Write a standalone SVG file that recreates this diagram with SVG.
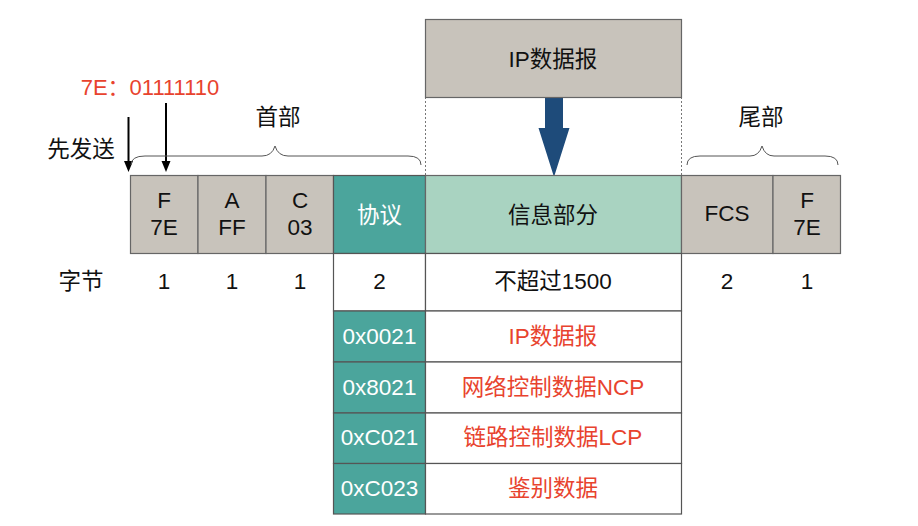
<svg xmlns="http://www.w3.org/2000/svg" width="918" height="526" viewBox="0 0 918 526">
<style>
text{font-family:"Liberation Sans","Noto Sans CJK SC",sans-serif;font-size:22.5px;text-anchor:middle;fill:#111}
.w{fill:#fff}
.r{fill:#e8432e}
.g{fill:#c8c3bb;stroke:#666;stroke-width:1.2}
.t{fill:#4ba59c;stroke:#555;stroke-width:1.2}
.lg{fill:#a9d3c1;stroke:#666;stroke-width:1.2}
.c{fill:#fff;stroke:#555;stroke-width:1.2}
.br{fill:none;stroke:#555;stroke-width:1}
.dot{stroke:#777;stroke-width:1;stroke-dasharray:2 2}
</style>
<rect width="918" height="526" fill="#fff"/>

<g id="connectors">
<line class="dot" x1="425.5" y1="97" x2="425.5" y2="175"/>
<line class="dot" x1="681.5" y1="97" x2="681.5" y2="175"/>
<line x1="128.5" y1="117" x2="128.5" y2="162" stroke="#000" stroke-width="2"/>
<path d="M124,161 L133,161 L128.5,172 Z" fill="#000"/>
<line x1="166" y1="103" x2="166" y2="162" stroke="#000" stroke-width="2"/>
<path d="M161.5,161 L170.5,161 L166,172 Z" fill="#000"/>
<path d="M545,96 L563,96 L563,128 L569.5,128 L554,177 L538.5,128 L545,128 Z" fill="#1e4b7a"/>
<path class="br" d="M131,165 Q131,156 145,156 L262,156 Q272,156 275,146 Q278,156 288,156 L408,156 Q421,156 421,165"/>
<path class="br" d="M687,165 Q687,156 700,156 L750,156 Q759,156 762,146 Q765,156 774,156 L825,156 Q838,156 838,165"/>
</g>

<g id="label-7e"><text class="r" x="150" y="95" style="font-size:22px">7E：01111110</text></g>
<g id="label-first"><text x="81" y="157">先发送</text></g>
<g id="label-head"><text x="278" y="125">首部</text></g>
<g id="label-tail"><text x="761" y="125">尾部</text></g>

<g id="ip-datagram">
<rect class="g" x="425.5" y="19.5" width="256" height="78"/>
<text x="553" y="67">IP数据报</text>
</g>

<g id="field-f">
<rect class="g" x="130.5" y="175.5" width="67.5" height="78"/>
<text x="164" y="208">F</text><text x="164" y="235">7E</text>
</g>
<g id="field-a">
<rect class="g" x="198" y="175.5" width="68" height="78"/>
<text x="232" y="208">A</text><text x="232" y="235">FF</text>
</g>
<g id="field-c">
<rect class="g" x="266" y="175.5" width="67.5" height="78"/>
<text x="300" y="208">C</text><text x="300" y="235">03</text>
</g>
<g id="field-protocol">
<rect class="t" x="333.5" y="175.5" width="92" height="78"/>
<text class="w" x="379.5" y="223">协议</text>
</g>
<g id="field-info">
<rect class="lg" x="425.5" y="175.5" width="256" height="78"/>
<text x="553" y="223">信息部分</text>
</g>
<g id="field-fcs">
<rect class="g" x="681.5" y="175.5" width="91.5" height="78"/>
<text x="727" y="221">FCS</text>
</g>
<g id="field-f2">
<rect class="g" x="773" y="175.5" width="67.5" height="78"/>
<text x="807" y="208">F</text><text x="807" y="235">7E</text>
</g>

<g id="bytes-row">
<text x="81" y="289">字节</text>
<text x="164" y="289">1</text>
<text x="232" y="289">1</text>
<text x="300" y="289">1</text>
<text x="727" y="289">2</text>
<text x="807" y="289">1</text>
</g>

<g id="table">
<rect class="c" x="333.5" y="253.5" width="92" height="57.5"/>
<text x="379.5" y="289">2</text>
<rect class="c" x="425.5" y="253.5" width="256" height="57.5"/>
<text x="553" y="289">不超过1500</text>

<rect class="t" x="333.5" y="311" width="92" height="51"/>
<text class="w" x="379.5" y="344">0x0021</text>
<rect class="c" x="425.5" y="311" width="256" height="51"/>
<text class="r" x="553" y="344">IP数据报</text>

<rect class="t" x="333.5" y="362" width="92" height="51"/>
<text class="w" x="379.5" y="395">0x8021</text>
<rect class="c" x="425.5" y="362" width="256" height="51"/>
<text class="r" x="553" y="395">网络控制数据NCP</text>

<rect class="t" x="333.5" y="413" width="92" height="50.5"/>
<text class="w" x="379.5" y="445">0xC021</text>
<rect class="c" x="425.5" y="413" width="256" height="50.5"/>
<text class="r" x="553" y="445">链路控制数据LCP</text>

<rect class="t" x="333.5" y="463.5" width="92" height="50.5"/>
<text class="w" x="379.5" y="496">0xC023</text>
<rect class="c" x="425.5" y="463.5" width="256" height="50.5"/>
<text class="r" x="553" y="496">鉴别数据</text>
</g>
</svg>
